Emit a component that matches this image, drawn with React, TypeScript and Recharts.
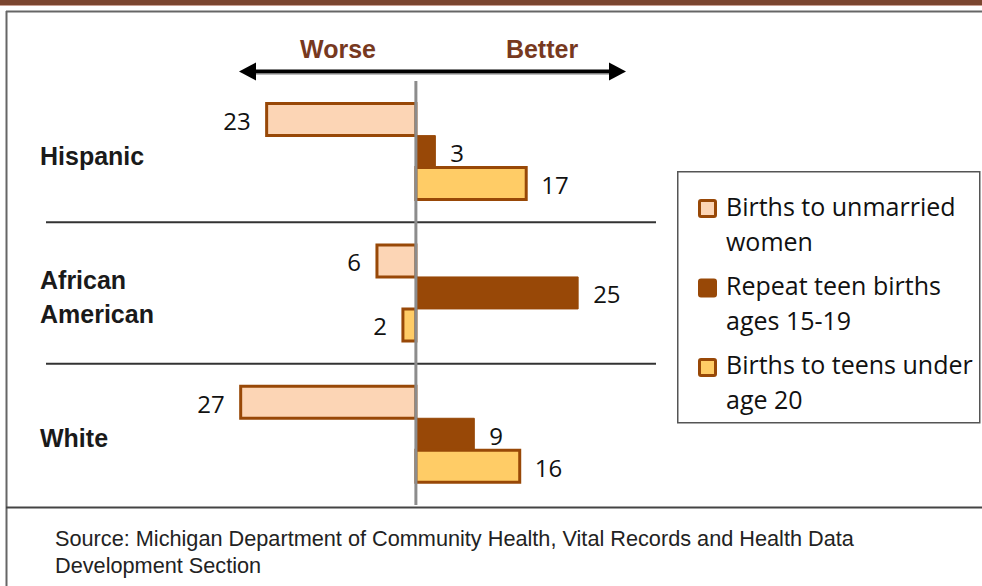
import { BarChart, Bar, XAxis, YAxis, CartesianGrid, ReferenceLine, LabelList, Legend } from 'recharts';

// change vs. comparison period, negative = worse
const groups = ['Hispanic', 'African American', 'White'];
const unmarried = [-23, -6, -27];
const repeatTeen = [3, 25, 9];
const teensUnder20 = [17, -2, 16];

const legendLines = [
  ['Births to unmarried', 'women'],
  ['Repeat teen births', 'ages 15-19'],
  ['Births to teens under', 'age 20'],
];
const sourceLines = [
  'Source: Michigan Department of Community Health, Vital Records and Health Data',
  'Development Section',
];

const BROWN = '#984807';
const PEACH = '#FCD5B5';
const GOLD = '#FFCC66';

const SERIES = [
  { key: 'unmarried', fill: PEACH, stroke: BROWN, strokeWidth: 3 },
  { key: 'repeatTeen', fill: BROWN, stroke: BROWN, strokeWidth: 1 },
  { key: 'teensUnder20', fill: GOLD, stroke: BROWN, strokeWidth: 3 },
];

const data = groups.map((g, i) => ({
  group: g,
  unmarried: unmarried[i],
  repeatTeen: repeatTeen[i],
  teensUnder20: teensUnder20[i],
}));

const NUM_FONT = '"Open Sans", sans-serif';
const ARIAL = '"Liberation Sans", Arial, sans-serif';

function GroupTick({ y, payload }: any) {
  const lines = String(payload.value).split(' ');
  const first = y + 4 - (lines.length - 1) * 17 + 9;
  return (
    <text x={40} fontFamily={ARIAL} fontWeight="bold" fontSize={25} fill="#1a1a1a">
      {lines.map((l, i) => (
        <tspan key={l} x={40} y={first + i * 34}>{l}</tspan>
      ))}
    </text>
  );
}

function ValueLabel({ x, y, width, height, value }: any) {
  const left = Math.min(x, x + width);
  const right = Math.max(x, x + width);
  const neg = value < 0;
  return (
    <text
      x={neg ? left - 16 : right + 15}
      y={y + height / 2 + 1}
      textAnchor={neg ? 'end' : 'start'}
      dominantBaseline="central"
      fontFamily={NUM_FONT}
      fontSize={24}
      fill="#111"
    >
      {Math.abs(value)}
    </text>
  );
}

function LegendBox() {
  return (
    <svg width={304} height={253} style={{ display: 'block' }}>
      <rect x={0.75} y={0.75} width={302} height={251} fill="#fff" stroke="#555" strokeWidth={1.5} />
      {SERIES.map((s, i) => (
        <g key={s.key}>
          <rect x={22.5} y={29.5 + i * 79.5} width={16} height={16} fill={s.fill} stroke={BROWN} strokeWidth={3} rx={1.5} />
          {legendLines[i].map((l, j) => (
            <text key={l} x={49} y={45 + i * 79 + j * 35} fontFamily={NUM_FONT} fontSize={25} fill="#111">{l}</text>
          ))}
        </g>
      ))}
    </svg>
  );
}

export default function App() {
  return (
    <div style={{ position: 'absolute', left: 0, top: 0, width: 982, height: 586, background: '#fff' }}>
      <BarChart
        width={982}
        height={586}
        data={data}
        layout="vertical"
        margin={{ top: 81, bottom: 81, left: 0, right: 22 }}
        barCategoryGap="16%"
        barGap={0}
      >
        <CartesianGrid
          vertical={false}
          stroke="#333"
          strokeWidth={2}
          horizontalCoordinatesGenerator={({ offset }: any) => [
            offset.top + offset.height / 3,
            offset.top + (2 * offset.height) / 3,
          ]}
        />
        <XAxis type="number" domain={[-57, 37]} hide />
        <YAxis type="category" dataKey="group" width={46} axisLine={false} tickLine={false} tick={<GroupTick />} interval={0} />
        {SERIES.map((s) => (
          <Bar key={s.key} dataKey={s.key} fill={s.fill} stroke={s.stroke} strokeWidth={s.strokeWidth} isAnimationActive={false}>
            <LabelList dataKey={s.key} content={<ValueLabel />} />
          </Bar>
        ))}
        <ReferenceLine x={0} stroke="#8c8c8c" strokeWidth={3} />
        <Legend
          layout="vertical"
          align="right"
          verticalAlign="middle"
          content={<LegendBox />}
          wrapperStyle={{ left: 677, top: 171, width: 304, height: 253 }}
        />
      </BarChart>
      <svg width={982} height={586} style={{ position: 'absolute', left: 0, top: 0, pointerEvents: 'none' }}>
        <rect x={0} y={0} width={982} height={5} fill="#7B4630" />
        <rect x={0} y={5} width={982} height={1} fill="#C9A093" />
        <line x1={6.5} y1={11} x2={6.5} y2={586} stroke="#666" strokeWidth={2} />
        <line x1={6} y1={11.5} x2={982} y2={11.5} stroke="#666" strokeWidth={2} />
        <line x1={6} y1={507.5} x2={982} y2={507.5} stroke="#444" strokeWidth={2} />
        <line x1={252} y1={74.5} x2={613} y2={74.5} stroke="#bbb" strokeWidth={1} />
        <line x1={252} y1={71.5} x2={613} y2={71.5} stroke="#000" strokeWidth={4} />
        <polygon points="239,71.5 256,62.5 256,80.5" fill="#000" />
        <polygon points="626,71.5 609,62.5 609,80.5" fill="#000" />
        <text x={338} y={58} textAnchor="middle" fontFamily={ARIAL} fontWeight="bold" fontSize={25} fill="#77391F">Worse</text>
        <text x={542} y={58} textAnchor="middle" fontFamily={ARIAL} fontWeight="bold" fontSize={25} fill="#77391F">Better</text>
        {sourceLines.map((l, i) => (
          <text key={l} x={55} y={546 + i * 27} fontFamily={ARIAL} fontSize={21.7} fill="#222">{l}</text>
        ))}
      </svg>
    </div>
  );
}
